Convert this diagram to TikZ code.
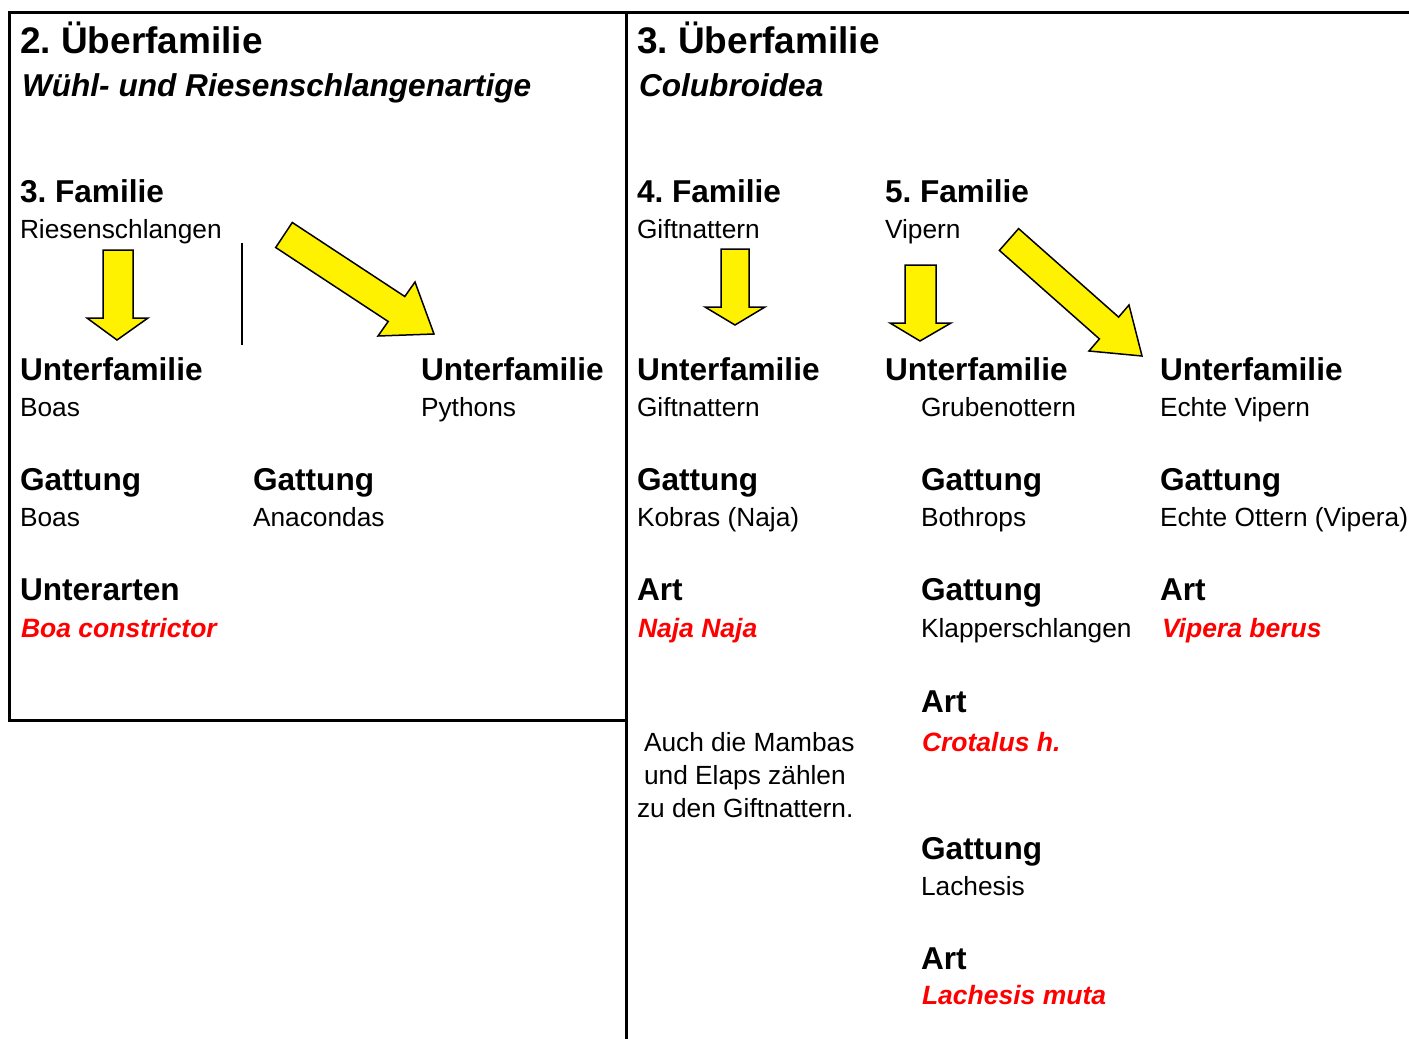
\documentclass[tikz,border=0pt]{standalone}
\usepackage{fontspec}
\setmainfont{Liberation Sans}
\frenchspacing
\begin{document}
\begin{tikzpicture}[x=1pt,y=-1pt,
  t/.style={anchor=base west, inner sep=0pt, outer sep=0pt},
  big/.style={t, font=\fontsize{37}{44}\selectfont\bfseries},
  head/.style={t, font=\fontsize{31.6}{38}\selectfont\bfseries},
  subit/.style={t, font=\fontsize{31.6}{38}\selectfont\bfseries\itshape},
  txt/.style={t, font=\fontsize{26.3}{32}\selectfont},
  redtxt/.style={t, text=red, font=\fontsize{26.5}{32}\selectfont\bfseries\itshape},
  frame/.style={line width=3pt},
  yarrow/.style={fill=yellow, draw=black, line width=1.5pt, line join=miter}
]
\useasboundingbox (0,0) rectangle (1409,1039);

% frames
\draw[frame] (9,12) rectangle (626,720);
\coordinate (tr) at (1409,12);
\coordinate (tl) at (626,12);
\coordinate (bl) at (626,1039);
\draw[frame] (tr) -- (tl) -- (bl);

% left panel
\node[big] (uf2) at (20,53) {2. Überfamilie};
\node[subit] (uf2n) at (22,96) {Wühl- und Riesenschlangenartige};
\node[head] (fam3) at (20,202) {3. Familie};
\node[txt] (fam3n) at (20,238) {Riesenschlangen};
\node[head] (ufboa) at (20,380) {Unterfamilie};
\node[txt] (ufboan) at (20,416) {Boas};
\node[head] (ufpy) at (421,380) {Unterfamilie};
\node[txt] (ufpyn) at (421,416) {Pythons};
\node[head] (gboa) at (20,490) {Gattung};
\node[txt] (gboan) at (20,526) {Boas};
\node[head] (gana) at (253,490) {Gattung};
\node[txt] (ganan) at (253,526) {Anacondas};
\node[head] (ua) at (20,600) {Unterarten};
\node[redtxt] (uan) at (21,637) {Boa constrictor};

% thin separator
\coordinate (sepT) at (242,243);
\coordinate (sepB) at (242,345);
\draw[line width=2.8pt] (sepT) -- (sepB);

% left arrows
\draw[yarrow] (103,250) -- (133,250) -- (133,318) -- (148,318) -- (117,340)
  -- (87,318) -- (103,318) -- cycle;
\draw[yarrow] (275.7,247.5) -- (292.3,222.5) -- (404.8,296.5) -- (415,282)
  -- (434,334) -- (378,336) -- (388.2,321.5) -- cycle;

% right panel
\node[big] (uf3) at (637,53) {3. Überfamilie};
\node[subit] (uf3n) at (639,96) {Colubroidea};
\node[head] (fam4) at (637,202) {4. Familie};
\node[txt] (fam4n) at (637,238) {Giftnattern};
\node[head] (fam5) at (885,202) {5. Familie};
\node[txt] (fam5n) at (885,238) {Vipern};

\node[head] (ufgn) at (637,380) {Unterfamilie};
\node[txt] (ufgnn) at (637,416) {Giftnattern};
\node[head] (ufgo) at (885,380) {Unterfamilie};
\node[txt] (ufgon) at (921,416) {Grubenottern};
\node[head] (ufev) at (1160,380) {Unterfamilie};
\node[txt] (ufevn) at (1160,416) {Echte Vipern};

\node[head] (gko) at (637,490) {Gattung};
\node[txt] (gkon) at (637,526) {Kobras (Naja)};
\node[head] (gbo) at (921,490) {Gattung};
\node[txt] (gbon) at (921,526) {Bothrops};
\node[head] (geo) at (1160,490) {Gattung};
\node[txt] (geon) at (1160,526) {Echte Ottern (Vipera)};

\node[head] (anaja) at (637,600) {Art};
\node[redtxt] (anajan) at (638,637) {Naja Naja};
\node[head] (gkl) at (921,600) {Gattung};
\node[txt] (gkln) at (921,637) {Klapperschlangen};
\node[head] (avip) at (1160,600) {Art};
\node[redtxt] (avipn) at (1162,637) {Vipera berus};

\node[head] (acro) at (921,712) {Art};
\node[redtxt] (acron) at (922,751) {Crotalus h.};
\node[head] (glach) at (921,859) {Gattung};
\node[txt] (glachn) at (921,895) {Lachesis};
\node[head] (alach) at (921,969) {Art};
\node[redtxt] (alachn) at (922,1004) {Lachesis muta};

\node[txt] (note1) at (644,751) {Auch die Mambas};
\node[txt] (note2) at (644,784) {und Elaps zählen};
\node[txt] (note3) at (637,817) {zu den Giftnattern.};

% right arrows
\draw[yarrow] (721,249) -- (749,249) -- (749,307) -- (765,307) -- (735,325)
  -- (705,307) -- (721,307) -- cycle;
\draw[yarrow] (905,265) -- (936,265) -- (936,323) -- (951,323) -- (920,341)
  -- (890,323) -- (905,323) -- cycle;
\draw[yarrow] (999.4,250.4) -- (1018.6,228.6) -- (1118.6,317.1) -- (1129,305)
  -- (1142,356) -- (1089,351) -- (1099.4,338.9) -- cycle;
\end{tikzpicture}
\end{document}
